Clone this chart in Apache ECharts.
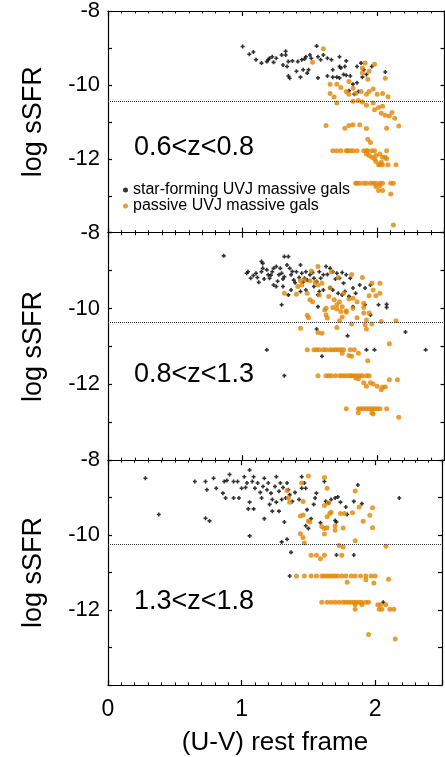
<!DOCTYPE html>
<html>
<head>
<meta charset="utf-8">
<script src="https://cdn.jsdelivr.net/npm/echarts@6/dist/echarts.min.js"></script>
<style>
  html, body { margin: 0; padding: 0; background: #fff; }
  #chart { width: 445px; height: 757px; }
</style>
</head>
<body>
<div id="chart"></div>
<script type="text/javascript">

// panel texts
var zLabels = ['0.6<z<0.8', '0.8<z<1.3', '1.3<z<1.8'];
var seriesNames = ['star-forming UVJ massive gals', 'passive UVJ massive gals'];
var xTickLabels = [0, 1, 2];
var yTickLabels = [-8, -10, -12];
// dotted sSFR cut in each panel
var cutLevels = [-10.45, -10.35, -10.25];

// panel 1 : 0.6<z<0.8
var sf1 = [[1.00,-8.96],[1.08,-9.11],[1.05,-9.17],[1.10,-9.32],[1.14,-9.41],[1.18,-9.37],[1.19,-9.32],[1.20,-9.28],
  [1.22,-9.24],[1.23,-9.39],[1.25,-9.28],[1.29,-9.19],[1.32,-9.09],[1.32,-9.19],[1.30,-9.46],[1.33,-9.50],[1.34,-9.37],
  [1.37,-9.35],[1.41,-9.37],[1.44,-9.32],[1.46,-9.30],[1.47,-9.24],[1.50,-9.19],[1.51,-9.28],[1.55,-8.95],[1.56,-9.24],
  [1.58,-9.32],[1.60,-9.19],[1.63,-9.28],[1.66,-9.32],[1.72,-9.24],[1.72,-9.50],[1.77,-9.35],[1.76,-9.50],[1.67,-9.59],
  [1.73,-9.54],[1.34,-9.76],[1.35,-9.82],[1.43,-9.79],[1.48,-9.68],[1.49,-9.59],[1.56,-9.81],[1.63,-9.76],[1.67,-9.79],
  [1.70,-9.79],[1.72,-9.81],[1.75,-9.72],[1.77,-9.74],[1.80,-9.76],[1.85,-9.50],[1.88,-9.41],[1.90,-9.59],[1.92,-9.72],
  [1.96,-9.50],[1.82,-9.98],[1.85,-9.94],[1.79,-10.16],[1.83,-10.25],[1.86,-10.18],[1.89,-9.79],[2.06,-9.65],
  [1.40,-9.63],[1.45,-9.59]];
var pas1 = [[1.60,-9.02],[1.52,-9.39],[1.91,-9.41],[1.89,-9.54],[1.94,-9.63],[1.89,-9.68],[1.93,-9.85],[1.98,-9.44],
  [2.06,-9.82],[1.65,-9.98],[1.70,-9.98],[1.79,-9.91],[1.73,-10.07],[1.82,-10.09],[1.77,-10.18],[1.65,-10.23],
  [1.68,-10.33],[1.70,-10.49],[1.79,-10.25],[1.84,-10.23],[1.88,-10.18],[1.92,-10.25],[1.94,-10.18],[1.97,-10.11],
  [2.00,-10.25],[2.04,-10.23],[2.08,-10.32],[1.82,-10.44],[1.86,-10.42],[1.89,-10.46],[1.92,-10.55],[1.97,-10.49],
  [1.98,-10.67],[2.01,-10.61],[2.04,-10.58],[2.03,-10.77],[2.06,-10.82],[2.09,-10.84],[2.11,-10.75],[2.13,-10.90],
  [2.16,-11.11],[2.07,-11.17],[1.62,-11.10],[1.76,-11.17],[1.79,-11.10],[1.82,-11.08],[1.87,-11.08],[1.92,-11.18],
  [1.67,-11.78],[1.70,-11.78],[1.73,-11.78],[1.77,-11.78],[1.78,-11.78],[1.80,-11.78],[1.82,-11.78],[1.85,-11.78],
  [1.90,-11.78],[1.92,-11.78],[1.93,-11.78],[1.96,-11.78],[1.98,-11.78],[2.07,-11.78],
  [1.93,-11.47],[1.95,-11.56],[1.92,-11.87],[1.94,-11.91],[1.96,-11.96],[1.98,-12.00],[1.99,-12.07],[2.01,-12.16],
  [2.02,-12.16],[2.03,-12.09],[2.04,-12.16],[2.06,-11.96],[2.07,-12.00],[2.08,-12.16],[2.14,-12.16],[2.02,-11.87],
  [2.04,-11.96],[1.99,-11.91],
  [1.84,-12.66],[1.85,-12.66],[1.87,-12.66],[1.90,-12.66],[1.92,-12.66],[1.95,-12.66],[1.97,-12.66],[1.99,-12.66],
  [2.02,-12.66],[2.04,-12.66],[2.10,-12.66],[2.12,-12.66],
  [1.99,-12.75],[2.01,-12.86],[2.04,-12.86],[2.02,-12.73],[2.10,-12.95],[2.12,-13.79]];

// panel 2 : 0.8<z<1.3
var sf2 = [[0.86,-8.61],[1.03,-9.07],[1.04,-9.03],[1.08,-9.13],[1.10,-9.07],[1.12,-9.31],[1.14,-8.76],[1.15,-8.81],
  [1.14,-9.03],[1.15,-8.94],[1.18,-8.98],[1.19,-9.11],[1.20,-9.20],[1.22,-9.03],[1.23,-8.94],[1.25,-8.89],[1.27,-9.11],
  [1.28,-8.94],[1.29,-9.07],[1.30,-9.22],[1.31,-8.63],[1.34,-8.63],[1.33,-8.85],[1.35,-8.94],[1.36,-9.11],[1.38,-9.25],
  [1.40,-9.03],[1.43,-8.85],[1.44,-9.07],[1.46,-9.20],[1.47,-9.03],[1.50,-9.11],[1.53,-9.20],[1.55,-9.29],[1.57,-9.03],
  [1.60,-9.11],[1.62,-8.89],[1.65,-8.94],[1.67,-9.03],[1.70,-9.07],[1.72,-9.20],[1.75,-9.33],[1.77,-9.11],[1.80,-9.20],
  [1.82,-9.46],[1.84,-9.60],[1.87,-9.38],[1.91,-9.46],[1.95,-9.38],[1.23,-9.38],[1.25,-9.42],[1.30,-9.42],[1.34,-9.64],
  [1.36,-9.51],[1.43,-9.55],[1.47,-9.51],[1.53,-9.42],[1.56,-9.64],[1.57,-9.55],[1.60,-9.51],[1.65,-9.46],[1.67,-9.51],
  [1.71,-9.60],[1.74,-9.64],[1.76,-9.55],[1.79,-9.68],[1.91,-9.90],[2.01,-9.90],[2.07,-9.89],[2.07,-9.97],[1.29,-9.90],
  [1.56,-9.95],[1.55,-10.54],[1.78,-10.72],[2.21,-10.62],[1.18,-11.09],[1.31,-11.77],[1.59,-11.26],[1.92,-11.09],
  [1.98,-11.09],[2.36,-11.09],[1.82,-9.95],[1.95,-10.17],
  [1.11,-9.18],[1.16,-9.22],[1.21,-9.12],[1.26,-9.28],[1.31,-9.16],[1.37,-9.02],[1.39,-9.32],[1.42,-9.18],[1.45,-9.30],
  [1.48,-9.25],[1.52,-9.05],[1.58,-9.20],[1.63,-9.10],[1.69,-9.22],[1.74,-9.05],[1.06,-9.20]];
var pas2 = [[1.56,-8.89],[1.51,-9.01],[1.66,-9.03],[1.81,-9.10],[1.89,-9.18],[1.71,-9.18],[1.43,-9.27],[1.46,-9.25],
  [1.50,-9.27],[1.54,-9.31],[1.56,-9.38],[1.59,-9.33],[1.65,-9.45],[1.41,-9.42],[1.44,-9.38],[1.40,-9.62],[1.31,-9.60],
  [1.48,-9.60],[1.50,-9.77],[1.52,-9.82],[1.57,-9.64],[1.64,-9.68],[1.68,-9.77],[1.70,-9.90],[1.72,-9.82],[1.74,-9.95],
  [1.75,-9.60],[1.79,-9.75],[1.82,-9.73],[1.85,-9.82],[1.90,-9.86],[1.94,-9.66],[1.96,-9.33],[2.02,-9.33],[2.02,-9.60],
  [1.99,-9.66],[1.97,-9.51],[1.62,-9.99],[1.67,-9.97],[1.70,-10.01],[1.73,-10.08],[1.77,-10.06],[1.82,-9.99],[1.90,-9.97],
  [1.94,-10.12],[1.90,-10.12],[1.62,-10.17],[1.61,-10.04],[1.48,-10.18],[1.49,-10.24],[1.63,-10.25],[1.72,-10.32],
  [1.74,-10.22],[1.77,-10.10],[1.85,-10.24],[1.81,-10.41],[1.92,-10.30],[1.91,-10.43],[1.96,-10.41],[1.92,-10.54],
  [2.03,-10.34],[2.14,-10.32],[1.70,-10.50],[1.43,-10.52],[1.56,-10.63],[1.59,-10.65],[2.09,-10.93],
  [1.48,-11.09],[1.53,-11.09],[1.55,-11.09],[1.57,-11.09],[1.60,-11.09],[1.62,-11.09],[1.65,-11.09],[1.67,-11.09],
  [1.69,-11.09],[1.71,-11.09],[1.73,-11.09],[1.75,-11.09],[1.80,-11.09],[1.83,-11.09],
  [1.79,-11.24],[1.81,-11.26],[1.86,-11.18],[1.93,-11.38],[1.74,-11.18],
  [1.56,-11.77],[1.62,-11.77],[1.64,-11.77],[1.66,-11.77],[1.69,-11.77],[1.72,-11.77],[1.74,-11.77],[1.76,-11.77],
  [1.78,-11.77],[1.80,-11.77],[1.81,-11.77],[1.83,-11.77],[1.85,-11.77],[1.87,-11.77],[1.89,-11.77],[1.92,-11.77],
  [1.94,-11.77],[1.84,-11.83],[1.86,-11.85],[1.90,-11.96],[1.92,-12.05],[1.95,-11.96],[1.97,-11.99],[2.00,-12.05],
  [2.03,-12.14],[2.04,-12.07],[2.06,-12.07],[2.09,-11.88],[2.15,-11.88],
  [1.77,-12.64],[1.86,-12.64],[1.88,-12.64],[1.90,-12.64],[1.92,-12.64],[1.94,-12.64],[1.96,-12.64],[1.98,-12.64],
  [2.00,-12.64],[2.02,-12.64],[2.07,-12.64],[1.86,-12.75],[1.96,-12.75],[1.97,-12.78],[2.16,-12.87]];

// panel 3 : 1.3<z<1.8
var sf3 = [[0.28,-8.48],[0.38,-9.45],[0.65,-8.57],[0.73,-8.57],[0.74,-8.79],[0.79,-8.48],[0.81,-8.75],[0.73,-9.55],
  [0.76,-9.62],[0.86,-8.88],[0.88,-9.01],[0.87,-8.57],[0.89,-8.54],[0.91,-8.38],[0.94,-8.57],[0.94,-9.01],[0.97,-8.57],
  [0.98,-9.01],[1.00,-8.75],[1.02,-8.44],[1.03,-8.73],[1.04,-8.61],[1.06,-8.26],[1.06,-9.12],[1.08,-8.57],[1.09,-8.44],
  [1.10,-8.75],[1.12,-8.61],[1.14,-8.86],[1.15,-9.01],[1.16,-8.70],[1.17,-8.48],[1.19,-8.79],[1.20,-8.61],[1.22,-8.88],
  [1.23,-9.05],[1.25,-8.70],[1.26,-8.44],[1.28,-8.83],[1.29,-8.61],[1.30,-9.05],[1.31,-8.73],[1.33,-9.01],[1.34,-8.61],
  [1.35,-8.79],[1.36,-8.92],[1.38,-9.10],[1.40,-8.86],[1.43,-9.05],[1.45,-8.44],[1.47,-8.61],[1.48,-8.75],[1.49,-9.32],
  [1.48,-9.75],[1.50,-9.82],[1.52,-9.56],[1.54,-9.18],[1.55,-9.01],[1.56,-8.88],[1.59,-9.67],[1.62,-8.57],[1.63,-9.10],
  [1.65,-9.14],[1.67,-9.05],[1.70,-9.01],[1.72,-8.98],[1.74,-9.12],[1.78,-9.25],[1.79,-9.45],[1.70,-9.61],[1.71,-9.65],
  [1.84,-9.10],[1.87,-8.66],[1.90,-9.16],[2.06,-11.79],[2.18,-9.01],[1.06,-10.02],[1.30,-10.18],[1.34,-10.11],
  [1.37,-10.46],[1.32,-9.65],[1.36,-11.09],[1.71,-10.53],[1.84,-10.53],[1.17,-9.56],[1.09,-9.30],[1.05,-9.30],
  [1.23,-9.36],[1.28,-9.36],[1.21,-9.18],[1.26,-9.12],[1.45,-8.75]];
var pas3 = [[1.50,-8.42],[1.62,-8.46],[1.45,-8.61],[1.64,-8.75],[1.34,-8.81],[1.35,-9.01],[1.36,-9.12],[1.46,-9.10],
  [1.85,-8.82],[1.65,-9.14],[1.62,-9.21],[1.67,-9.39],[1.66,-9.42],[1.64,-9.51],[1.46,-9.46],[1.44,-9.49],[1.50,-9.62],
  [1.51,-9.65],[1.60,-9.77],[1.62,-9.82],[1.64,-9.80],[1.70,-9.75],[1.70,-9.87],[1.76,-9.81],[1.74,-9.42],[1.77,-9.42],
  [1.83,-9.40],[1.88,-9.25],[1.98,-9.27],[1.96,-9.47],[1.91,-9.63],[1.98,-9.80],[1.62,-9.97],[1.44,-9.96],[1.46,-10.06],
  [1.47,-10.21],[1.85,-10.15],[1.73,-10.28],[1.76,-10.32],[2.08,-10.30],[1.52,-10.54],[1.56,-10.54],[1.59,-10.63],
  [1.62,-10.54],[1.75,-10.54],
  [1.41,-11.09],[1.47,-11.09],[1.52,-11.09],[1.56,-11.09],[1.60,-11.09],[1.62,-11.09],[1.64,-11.09],[1.66,-11.09],
  [1.68,-11.09],[1.70,-11.09],[1.72,-11.09],[1.75,-11.09],[1.78,-11.09],[1.82,-11.09],[1.85,-11.09],[1.89,-11.09],
  [1.93,-11.09],[1.97,-11.09],[2.00,-11.09],[1.93,-11.19],[1.99,-11.28],[1.79,-11.26],[2.10,-11.18],
  [1.60,-11.79],[1.64,-11.79],[1.67,-11.79],[1.70,-11.79],[1.73,-11.79],[1.76,-11.79],[1.78,-11.79],[1.80,-11.79],
  [1.82,-11.79],[1.84,-11.79],[1.86,-11.79],[1.88,-11.79],[1.90,-11.79],[1.93,-11.79],[1.95,-11.79],
  [1.85,-11.86],[1.85,-11.98],[1.90,-11.86],[2.02,-11.86],[2.04,-11.86],[2.08,-11.86],[2.03,-11.98],[2.05,-11.98],
  [2.11,-11.98],[2.14,-11.98],[1.95,-12.65],[2.15,-12.77]];

var sfData = [sf1, sf2, sf3];
var pasData = [pas1, pas2, pas3];

var FONT = '"Liberation Sans", Arial, sans-serif';
var ORANGE = '#e38603';
var PLUS = 'path://M0.3,0H0.7V0.3H1V0.7H0.7V1H0.3V0.7H0V0.3H0.3Z';

function isInt(v) { return Math.abs(v - Math.round(v)) < 1e-6; }

var grids = [
  {left: 108, width: 336.5, top: 4.7, height: 228},
  {left: 108, width: 336.5, top: 232.7, height: 227.5},
  {left: 108, width: 336.5, top: 460.2, height: 227.8}
];

var xAxes = [], yAxes = [], series = [], graphics = [];
var labelTops = [134.5, 361.5, 588];

for (var i = 0; i < 3; i++) {
    var last = (i === 2);
    // minor ticks (every 0.1) bottom and top, carrying the axis line
    ['bottom', 'top'].forEach(function (pos) {
        xAxes.push({
            gridIndex: i, type: 'value', position: pos, min: 0, max: 2.5, interval: 0.1,
            axisLine: {show: true, onZero: false, lineStyle: {color: '#000', width: 1.2}},
            axisTick: {show: true, inside: true, length: 2.5, lineStyle: {color: '#000', width: 1}},
            axisLabel: {
                show: last && pos === 'bottom', margin: 13, color: '#000',
                fontFamily: FONT, fontSize: 23,
                formatter: function (v) {
                    return (isInt(v) && xTickLabels.indexOf(Math.round(v)) >= 0) ? String(Math.round(v)) : '';
                }
            },
            splitLine: {show: false},
            name: (last && pos === 'bottom') ? '(U-V) rest frame' : '',
            nameLocation: 'middle', nameGap: 45,
            nameTextStyle: {fontFamily: FONT, fontSize: 26, color: '#000'}
        });
    });
    // major ticks (every 1) bottom and top
    ['bottom', 'top'].forEach(function (pos) {
        xAxes.push({
            gridIndex: i, type: 'value', position: pos, min: 0, max: 2.5, interval: 1,
            axisLine: {show: false, onZero: false},
            axisTick: {show: true, inside: true, length: 5, lineStyle: {color: '#000', width: 1.2}},
            axisLabel: {show: false},
            splitLine: {show: false}
        });
    });
    ['left', 'right'].forEach(function (pos) {
        yAxes.push({
            gridIndex: i, type: 'value', position: pos, min: -14, max: -8, interval: 1,
            axisLine: {show: true, onZero: false, lineStyle: {color: '#000', width: 1.2}},
            axisTick: {show: true, inside: true, length: 4, lineStyle: {color: '#000', width: 1.2}},
            axisLabel: {
                show: pos === 'left', margin: 8, color: '#000', fontFamily: FONT, fontSize: 22,
                formatter: function (v) {
                    return yTickLabels.indexOf(Math.round(v)) >= 0 && isInt(v) ? String(Math.round(v)) : '';
                }
            },
            splitLine: {show: false},
            name: pos === 'left' ? 'log sSFR' : '',
            nameLocation: 'middle', nameGap: 61,
            nameTextStyle: {fontFamily: FONT, fontSize: 27, color: '#000'}
        });
    });

    series.push({
        name: seriesNames[0], type: 'scatter',
        xAxisIndex: i * 4, yAxisIndex: i * 2,
        symbol: PLUS, symbolSize: 4,
        itemStyle: {color: '#000'},
        data: sfData[i],
        silent: true, animation: false
    });
    series.push({
        name: seriesNames[1], type: 'scatter',
        xAxisIndex: i * 4, yAxisIndex: i * 2,
        symbol: 'circle', symbolSize: 5,
        itemStyle: {color: ORANGE},
        data: pasData[i],
        silent: true, animation: false,
        markLine: {
            silent: true, symbol: ['none', 'none'], animation: false,
            label: {show: false},
            lineStyle: {type: 'dotted', color: '#333', width: 1},
            data: [{yAxis: cutLevels[i]}]
        }
    });

    graphics.push({
        type: 'text', left: 134, top: labelTops[i],
        style: {text: zLabels[i], fontFamily: FONT, fontSize: 27, fill: '#000'}
    });
}

var myChart = echarts.init(document.getElementById('chart'));
var option = {
    backgroundColor: '#fff',
    animation: false,
    grid: grids,
    xAxis: xAxes,
    yAxis: yAxes,
    legend: {
        orient: 'vertical', left: 118, top: 177,
        itemGap: 0, itemWidth: 5, itemHeight: 5,
        selectedMode: false,
        textStyle: {fontFamily: FONT, fontSize: 16, color: '#000', lineHeight: 14},
        data: [
            {name: seriesNames[0], icon: 'circle', itemStyle: {color: '#000'}},
            {name: seriesNames[1], icon: 'circle', itemStyle: {color: ORANGE}}
        ]
    },
    graphic: graphics,
    series: series
};
myChart.setOption(option);

</script>
</body>
</html>
